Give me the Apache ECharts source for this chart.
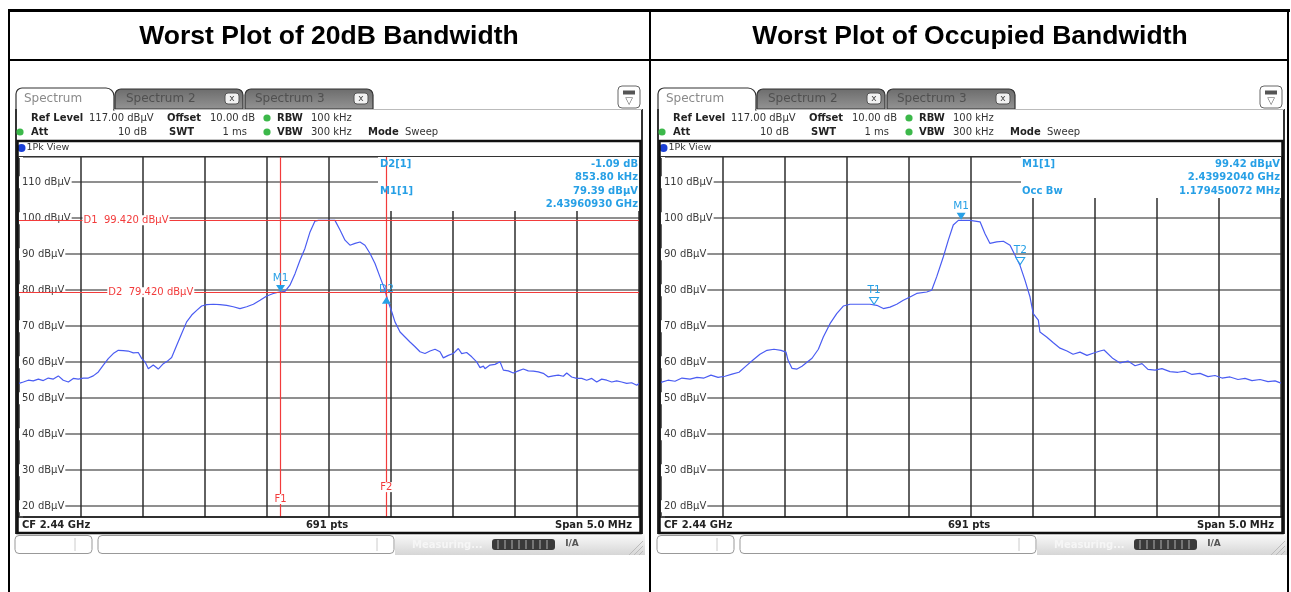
<!DOCTYPE html>
<html><head><meta charset="utf-8">
<script src="https://cdn.jsdelivr.net/npm/echarts@6/dist/echarts.min.js"></script>
<style>html,body{margin:0;padding:0;background:#fff}#c{width:1291px;height:592px}</style>
</head><body><div id="c"></div>
<script>
// ---------- DATA ----------
const titles = ['Worst Plot of 20dB Bandwidth', 'Worst Plot of Occupied Bandwidth'];
const spanMHz = [2437.5, 2442.5];      // CF 2.44 GHz, span 5 MHz
const levelRange = [17, 117];          // ref level 117 dBµV, 10 dB/div
// Left trace (20 dB bandwidth)
const freqL = [2437.500,2437.535,2437.575,2437.615,2437.656,2437.696,2437.736,2437.777,2437.817,2437.857,2437.898,2437.938,2437.978,2438.019,2438.059,2438.099,2438.140,2438.180,2438.220,2438.260,2438.301,2438.341,2438.381,2438.422,2438.462,2438.490,2438.516,2438.543,2438.583,2438.623,2438.664,2438.704,2438.731,2438.772,2438.812,2438.852,2438.893,2438.933,2438.973,2439.014,2439.067,2439.121,2439.175,2439.228,2439.282,2439.336,2439.390,2439.444,2439.498,2439.551,2439.599,2439.645,2439.685,2439.726,2439.766,2439.806,2439.847,2439.887,2439.914,2439.981,2440.048,2440.089,2440.129,2440.169,2440.210,2440.250,2440.290,2440.331,2440.371,2440.411,2440.446,2440.478,2440.506,2440.532,2440.573,2440.613,2440.653,2440.694,2440.734,2440.774,2440.815,2440.855,2440.895,2440.922,2440.962,2441.002,2441.043,2441.070,2441.110,2441.151,2441.191,2441.218,2441.245,2441.258,2441.298,2441.339,2441.379,2441.406,2441.446,2441.486,2441.527,2441.567,2441.607,2441.648,2441.688,2441.728,2441.769,2441.809,2441.849,2441.890,2441.917,2441.957,2441.998,2442.038,2442.078,2442.119,2442.159,2442.199,2442.240,2442.280,2442.320,2442.360,2442.401,2442.441,2442.482,2442.500];
const levelL = [54.1,54.5,55.0,54.8,55.3,54.9,55.6,55.3,56.2,55.0,54.5,55.5,55.3,55.6,55.6,56.2,57.3,59.2,61.0,62.4,63.3,63.2,63.1,62.6,62.7,61.0,60.1,58.2,59.2,58.1,59.6,60.5,61.3,64.7,68.0,71.2,73.1,74.4,75.6,76.0,76.1,76.0,75.8,75.4,74.9,75.4,76.1,77.2,78.4,79.1,79.5,79.7,81.4,84.6,88.3,91.6,96.2,99.2,99.4,99.4,99.4,96.7,93.9,92.5,93.0,93.4,92.5,90.2,87.4,83.7,80.5,76.8,74.0,71.2,68.4,67.0,65.6,64.3,62.9,62.4,63.1,63.6,62.9,61.2,61.9,62.4,63.8,62.4,62.7,61.5,60.1,58.5,58.9,58.2,59.2,59.4,60.1,57.8,57.6,57.0,57.6,58.1,57.6,57.5,57.3,56.9,55.9,56.2,56.4,56.1,57.0,55.9,55.5,55.5,55.0,55.5,54.5,55.3,55.0,54.5,54.8,54.5,54.1,54.3,53.6,54.1];
// Right trace (occupied bandwidth)
const freqR = [2437.500,2437.556,2437.613,2437.669,2437.734,2437.790,2437.847,2437.903,2437.960,2438.016,2438.073,2438.129,2438.185,2438.242,2438.298,2438.355,2438.411,2438.468,2438.508,2438.524,2438.556,2438.597,2438.637,2438.677,2438.718,2438.769,2438.809,2438.863,2438.917,2438.970,2439.024,2439.105,2439.185,2439.240,2439.293,2439.347,2439.401,2439.454,2439.508,2439.562,2439.643,2439.683,2439.723,2439.777,2439.817,2439.857,2439.898,2439.965,2439.992,2440.073,2440.113,2440.153,2440.207,2440.261,2440.315,2440.355,2440.395,2440.435,2440.476,2440.502,2440.543,2440.556,2440.610,2440.664,2440.718,2440.774,2440.823,2440.879,2440.935,2440.984,2441.040,2441.073,2441.145,2441.202,2441.266,2441.323,2441.379,2441.427,2441.484,2441.540,2441.605,2441.669,2441.726,2441.782,2441.847,2441.911,2441.968,2442.024,2442.089,2442.153,2442.210,2442.266,2442.331,2442.395,2442.452,2442.500];
const levelR = [54.4,55.0,54.7,55.6,55.3,55.8,55.6,56.4,55.8,56.1,56.7,57.2,58.9,60.6,62.2,63.3,63.6,63.3,62.8,60.6,58.3,58.1,58.9,60.0,61.1,63.6,67.0,70.7,73.5,75.6,76.1,76.1,76.1,75.8,74.9,75.3,76.1,77.2,78.1,79.1,79.5,80.0,83.7,89.3,93.9,98.1,99.4,99.4,99.4,99.0,95.7,93.0,93.4,93.6,92.5,89.7,86.9,82.8,78.1,73.5,71.7,68.4,67.0,65.4,63.9,63.1,62.2,62.8,61.9,62.5,63.1,63.4,61.0,59.8,60.3,59.0,59.6,58.0,57.8,58.2,57.4,57.2,57.5,56.6,56.9,56.0,56.3,55.6,55.9,55.2,55.5,54.9,55.2,54.6,54.8,54.2];
// Markers
const m1L = [2439.6093, 79.39];          // M1[1] left
const deltaDb = -1.09, deltaKHz = 853.80; // D2[1]
const d2L = [m1L[0] + deltaKHz / 1000, +(m1L[1] + deltaDb).toFixed(2)];
const d1Line = 99.42, d2Line = 79.42;     // display lines
const m1R = [2439.9204, 99.42];          // M1[1] right
const occBwMHz = 1.179450072;
const t1R = [2439.218, 75.9];
const t2R = [t1R[0] + occBwMHz, 87.0];

// ---------- STYLE ----------
const FONT = '"DejaVu Sans", Verdana, sans-serif';
const MK = '#27a0e6', RED = '#f23b3b', TRACE = '#4a5cf2';
const G = [];
function R(x,y,w,h,fill,stroke,lw,r,z){ const st={fill:fill||'none'}; if(stroke){st.stroke=stroke; st.lineWidth=lw||1;} G.push({type:'rect', shape:{x:x,y:y,width:w,height:h,r:r||0}, style:st, z:(z==null?5:z), silent:true}); }
function L(x1,y1,x2,y2,stroke,lw,z){ G.push({type:'line', shape:{x1:x1,y1:y1,x2:x2,y2:y2}, style:{stroke:stroke, lineWidth:lw||1}, z:(z==null?6:z), silent:true}); }
function T(x,y,t,o){ o=o||{}; const a=o.a||'left'; G.push({type:'text', x:x, y:y, style:{text:t, fill:o.c||'#222', font:(o.b?'bold ':'')+(o.s||10)+'px '+(o.f||FONT), textAlign:a, textVerticalAlign:'middle', align:a, verticalAlign:'middle'}, z:(o.z||10), silent:true}); }
function C(cx,cy,r,fill,z){ G.push({type:'circle', shape:{cx:cx,cy:cy,r:r}, style:{fill:fill}, z:z||7, silent:true}); }

// table
R(8,9,1282,3,'#000',null,0,0,20);
R(8,9,2,583,'#000',null,0,0,20);
R(1287,9,2,583,'#000',null,0,0,20);
R(649,9,2,583,'#000',null,0,0,20);
R(8,59,1281,2,'#000',null,0,0,20);
T(329,37,titles[0],{b:1,s:26.5,f:'"Liberation Sans", Arial, sans-serif',a:'center',c:'#000'});
T(970,37,titles[1],{b:1,s:26.5,f:'"Liberation Sans", Arial, sans-serif',a:'center',c:'#000'});

function panel(dx){
  R(16+dx,88,98,22,'#fff','#333',1.2,[6,8,0,0],6);
  R(17+dx,106,96,6,'#fff',null,0,0,7);
  T(24+dx,99,'Spectrum',{s:12,c:'#8a8a8a'});
  [[115,'Spectrum 2',126,225],[245,'Spectrum 3',255,354]].forEach(function(a){
    R(a[0]+dx,89,128,20,{type:'linear',x:0,y:0,x2:0,y2:1,colorStops:[{offset:0,color:'#6c6c6c'},{offset:1,color:'#949494'}]},'#333',1.2,[6,6,0,0],6);
    T(a[2]+dx,99,a[1],{s:12,c:'#505050'});
    R(a[3]+dx,93,14,11,'#f2f2f2','#555',1,3,7);
    T(a[3]+7+dx,98.5,'x',{s:9,c:'#444',a:'center'});
  });
  R(618+dx,86,22,22,'#fff','#666',1,4,6);
  R(623+dx,90.5,12,4,'#555',null,0,0,7);
  T(629+dx,101,'▽',{s:10,c:'#555',a:'center'});
  // window frame
  L(16+dx,109,16+dx,534,'#333',2);
  L(642+dx,109,642+dx,534,'#333',2);
  L(114+dx,109.5,642+dx,109.5,'#bbb',1);
  // header
  T(31+dx,118,'Ref Level',{b:1}); T(89+dx,118,'117.00 dBµV',{c:'#333'});
  T(167+dx,118,'Offset',{b:1}); T(210+dx,118,'10.00 dB',{c:'#333'});
  C(267+dx,118,3.6,'#3cb84a'); T(277+dx,118,'RBW',{b:1}); T(311+dx,118,'100 kHz',{c:'#333'});
  C(20+dx,132,3.6,'#3cb84a'); T(31+dx,132,'Att',{b:1}); T(147+dx,132,'10 dB',{c:'#333',a:'right'});
  T(169+dx,132,'SWT',{b:1}); T(247+dx,132,'1 ms',{c:'#333',a:'right'});
  C(267+dx,132,3.6,'#3cb84a'); T(277+dx,132,'VBW',{b:1}); T(311+dx,132,'300 kHz',{c:'#333'});
  T(368+dx,132,'Mode',{b:1}); T(405+dx,132,'Sweep',{c:'#333'});
  // plot box
  R(17.5+dx,141,623,392,null,'#111',2.5,0,8);
  L(18+dx,156.5,640+dx,156.5,'#333',1,8);
  L(18+dx,517,640+dx,517,'#111',1.5,8);
  C(21.5+dx,148,4,'#1a3fd6');
  T(26.5+dx,148,'1Pk View',{s:9.5,c:'#333'});
  T(22+dx,525,'CF 2.44 GHz',{b:1});
  T(327+dx,525,'691 pts',{b:1,a:'center'});
  T(632+dx,525,'Span 5.0 MHz',{b:1,a:'right'});
  // status bar
  R(15+dx,535.5,77,18,'#fff','#999',1,4,6); L(75+dx,538,75+dx,551,'#ccc',1);
  R(98+dx,535.5,296,18,'#fff','#999',1,4,6); L(377+dx,538,377+dx,551,'#ccc',1);
  R(395+dx,534,250,21,{type:'linear',x:0,y:0,x2:0,y2:1,colorStops:[{offset:0,color:'#fafafa'},{offset:1,color:'#d6d6d6'}]},null,0,0,5);
  T(412+dx,545,'Measuring...',{b:1,c:'#f6f6f6'});
  R(492+dx,539,63,11,'#3a3a3a',null,0,3,6);
  for (let k=0;k<8;k++) L(498+dx+k*7,540,498+dx+k*7,549,'#8a8a8a',1.5,7);
  T(572+dx,544,'I/A',{b:1,s:9,c:'#555',a:'center'});
  L(629+dx,555,643+dx,541,'#bbb',1); L(634+dx,555,643+dx,546,'#bbb',1); L(639+dx,555,643+dx,551,'#bbb',1);
}
panel(0); panel(642);

// info boxes (cover grid under readout)
R(378,156,261,55,'#fff',null,0,0,1);
R(1021,156,260,42,'#fff',null,0,0,1);
const IB = {b:1,c:MK};
T(380,164,'D2[1]',IB); T(638,164,deltaDb.toFixed(2)+' dB',Object.assign({a:'right'},IB));
T(638,177.5,deltaKHz.toFixed(2)+' kHz',Object.assign({a:'right'},IB));
T(380,191,'M1[1]',IB); T(638,191,m1L[1].toFixed(2)+' dBµV',Object.assign({a:'right'},IB));
T(638,204.5,(m1L[0]/1000).toFixed(8)+' GHz',Object.assign({a:'right'},IB));
T(1022,164,'M1[1]',IB); T(1280,164,m1R[1].toFixed(2)+' dBµV',Object.assign({a:'right'},IB));
T(1280,177.5,(m1R[0]/1000).toFixed(8)+' GHz',Object.assign({a:'right'},IB));
T(1022,191,'Occ Bw',IB); T(1280,191,occBwMHz.toFixed(9)+' MHz',Object.assign({a:'right'},IB));

function xAx(gi){ return {type:'value',gridIndex:gi,min:spanMHz[0],max:spanMHz[1],interval:0.5,axisLine:{show:false},axisTick:{show:false},axisLabel:{show:false},splitLine:{show:true,lineStyle:{color:'#2e2e2e',width:1.5}}}; }
function yAx(gi){ return {type:'value',gridIndex:gi,min:levelRange[0],max:levelRange[1],splitNumber:10,axisLine:{show:false},axisTick:{show:false},
  axisLabel:{inside:true,margin:0,formatter:function(v){return (v%10===0)?(v+' dBµV'):'';},color:'#3a3a3a',fontSize:10,fontFamily:FONT,backgroundColor:'#fff',padding:[1,1,1,3]},
  splitLine:{show:true,lineStyle:{color:'#6a6a6a',width:1.6}}}; }

const lblPt = (coord, text, pos, dist) => ({coord:coord, symbol:'rect', symbolSize:1, itemStyle:{color:'rgba(0,0,0,0)'},
  label:{show:true, position:pos, distance:dist, formatter:text, color:RED, fontSize:10, fontFamily:FONT, backgroundColor:'#fff', padding:[0,1]}});
const mk = (coord, text, down, hollow) => ({coord:coord, symbol:'triangle', symbolRotate:down?180:0, symbolSize:[9,7], symbolOffset:[0, down?-4:4],
  itemStyle:{color:hollow?'#fff':MK, borderColor:MK, borderWidth:hollow?1:0},
  label:{show:true, position:'top', distance:down?1:2, formatter:text, color:MK, fontSize:10.5, fontFamily:FONT}});

const seriesL = {type:'line', xAxisIndex:0, yAxisIndex:0, data:freqL.map((f,i)=>[f,levelL[i]]), symbol:'none', z:3, silent:true,
  lineStyle:{color:TRACE,width:1.2},
  markLine:{symbol:'none', silent:true, label:{show:false}, lineStyle:{color:RED,width:1.2,type:'solid'},
    data:[{yAxis:d1Line},{yAxis:d2Line},{xAxis:m1L[0]},{xAxis:d2L[0]}]},
  markPoint:{silent:true, data:[
    mk(m1L,'M1',true,false), mk(d2L,'D2',false,false),
    lblPt([2438.0,d1Line],'D1  99.420 dBµV','right',1),
    lblPt([2438.2,d2Line],'D2  79.420 dBµV','right',1),
    lblPt([m1L[0],22.0],'F1','inside',0),
    lblPt([d2L[0],25.3],'F2','inside',0)]}};
const seriesR = {type:'line', xAxisIndex:1, yAxisIndex:1, data:freqR.map((f,i)=>[f,levelR[i]]), symbol:'none', z:3, silent:true,
  lineStyle:{color:TRACE,width:1.2},
  markPoint:{silent:true, data:[mk(m1R,'M1',true,false), mk(t1R,'T1',true,true), mk(t2R,'T2',true,true)]}};

const chart = echarts.init(document.getElementById('c'), null, {renderer:'canvas', width:1291, height:592});
chart.setOption({
  animation:false, backgroundColor:'#fff',
  grid:[{left:19,top:157,width:620,height:360,show:false},{left:661,top:157,width:620,height:360,show:false}],
  xAxis:[xAx(0),xAx(1)], yAxis:[yAx(0),yAx(1)],
  series:[seriesL, seriesR],
  graphic:{elements:G}
});
</script></body></html>
